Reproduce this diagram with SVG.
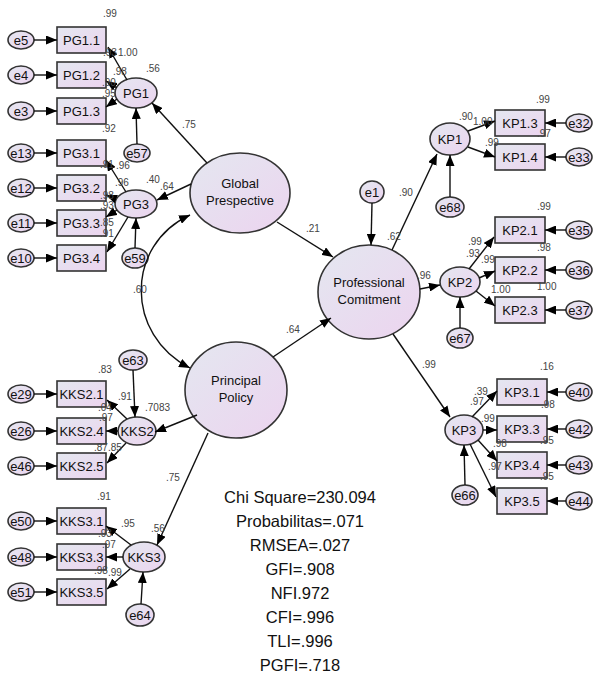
<svg xmlns="http://www.w3.org/2000/svg" width="593" height="680" viewBox="0 0 593 680">
<defs>
<linearGradient id="gr" x1="0" y1="0" x2="1" y2="1">
<stop offset="0" stop-color="#e4e7f0"/>
<stop offset="1" stop-color="#ecd4ef"/>
</linearGradient>
<marker id="ah" viewBox="0 0 11 9" refX="11" refY="4.5" markerWidth="11" markerHeight="9" markerUnits="userSpaceOnUse" orient="auto-start-reverse">
<path d="M0,0 L11,4.5 L0,9 z" fill="#000"/>
</marker>
<style>
.n rect,.n ellipse{fill:url(#gr);stroke:#333;stroke-width:1.6}
.n text{font-family:"Liberation Sans",Arial,sans-serif;font-size:13px;fill:#111;text-anchor:middle}
#conn line,#conn path{stroke:#111;stroke-width:1.4;fill:none;marker-end:url(#ah)}
.lb text{font-family:"Liberation Sans",Arial,sans-serif;font-size:10px;fill:#444}
.st{font-family:"Liberation Sans",Arial,sans-serif;font-size:16.5px;fill:#111;text-anchor:middle}
</style>
</defs>
<rect width="593" height="680" fill="#fff"/>

<!-- error ellipses left -->
<g id="e5" class="n"><ellipse cx="21" cy="40" rx="13" ry="9"/><text x="21" y="44.5">e5</text></g>
<g id="e4" class="n"><ellipse cx="21" cy="75" rx="13" ry="9"/><text x="21" y="79.5">e4</text></g>
<g id="e3" class="n"><ellipse cx="21" cy="111" rx="13" ry="9"/><text x="21" y="115.5">e3</text></g>
<g id="e13" class="n"><ellipse cx="21" cy="153" rx="13" ry="9"/><text x="21" y="157.5">e13</text></g>
<g id="e12" class="n"><ellipse cx="21" cy="188" rx="13" ry="9"/><text x="21" y="192.5">e12</text></g>
<g id="e11" class="n"><ellipse cx="21" cy="223" rx="13" ry="9"/><text x="21" y="227.5">e11</text></g>
<g id="e10" class="n"><ellipse cx="21" cy="258" rx="13" ry="9"/><text x="21" y="262.5">e10</text></g>
<g id="e29" class="n"><ellipse cx="21" cy="394" rx="13" ry="9"/><text x="21" y="398.5">e29</text></g>
<g id="e26" class="n"><ellipse cx="21" cy="431" rx="13" ry="9"/><text x="21" y="435.5">e26</text></g>
<g id="e46" class="n"><ellipse cx="21" cy="466" rx="13" ry="9"/><text x="21" y="470.5">e46</text></g>
<g id="e50" class="n"><ellipse cx="21" cy="521" rx="13" ry="9"/><text x="21" y="525.5">e50</text></g>
<g id="e48" class="n"><ellipse cx="21" cy="557" rx="13" ry="9"/><text x="21" y="561.5">e48</text></g>
<g id="e51" class="n"><ellipse cx="21" cy="592" rx="13" ry="9"/><text x="21" y="596.5">e51</text></g>

<!-- left indicators -->
<g id="PG1_1" class="n"><rect x="57" y="27" width="49" height="26"/><text x="81.5" y="44.5">PG1.1</text></g>
<g id="PG1_2" class="n"><rect x="57" y="62" width="49" height="26"/><text x="81.5" y="79.5">PG1.2</text></g>
<g id="PG1_3" class="n"><rect x="57" y="98" width="49" height="26"/><text x="81.5" y="115.5">PG1.3</text></g>
<g id="PG3_1" class="n"><rect x="57" y="140" width="49" height="26"/><text x="81.5" y="157.5">PG3.1</text></g>
<g id="PG3_2" class="n"><rect x="57" y="175" width="49" height="26"/><text x="81.5" y="192.5">PG3.2</text></g>
<g id="PG3_3" class="n"><rect x="57" y="210" width="49" height="26"/><text x="81.5" y="227.5">PG3.3</text></g>
<g id="PG3_4" class="n"><rect x="57" y="245" width="49" height="26"/><text x="81.5" y="262.5">PG3.4</text></g>
<g id="KKS2_1" class="n"><rect x="57" y="381" width="49" height="26"/><text x="81.5" y="398.5">KKS2.1</text></g>
<g id="KKS2_4" class="n"><rect x="57" y="418" width="49" height="26"/><text x="81.5" y="435.5">KKS2.4</text></g>
<g id="KKS2_5" class="n"><rect x="57" y="453" width="49" height="26"/><text x="81.5" y="470.5">KKS2.5</text></g>
<g id="KKS3_1" class="n"><rect x="57" y="508" width="49" height="26"/><text x="81.5" y="525.5">KKS3.1</text></g>
<g id="KKS3_3" class="n"><rect x="57" y="544" width="49" height="26"/><text x="81.5" y="561.5">KKS3.3</text></g>
<g id="KKS3_5" class="n"><rect x="57" y="579" width="49" height="26"/><text x="81.5" y="596.5">KKS3.5</text></g>

<!-- left latents -->
<g id="PG1" class="n"><ellipse cx="136" cy="93" rx="21" ry="15"/><text x="136" y="97.5">PG1</text></g>
<g id="PG3" class="n"><ellipse cx="136" cy="204" rx="21" ry="14"/><text x="136" y="208.5">PG3</text></g>
<g id="e57" class="n"><ellipse cx="137" cy="153" rx="13" ry="9"/><text x="137" y="157.5">e57</text></g>
<g id="e59" class="n"><ellipse cx="135" cy="258" rx="13" ry="10"/><text x="135" y="262.5">e59</text></g>
<g id="KKS2" class="n"><ellipse cx="137" cy="431" rx="19" ry="14"/><text x="137" y="435.5">KKS2</text></g>
<g id="e63" class="n"><ellipse cx="133" cy="360" rx="14" ry="10"/><text x="133" y="364.5">e63</text></g>
<g id="KKS3" class="n"><ellipse cx="144" cy="557" rx="21" ry="15"/><text x="144" y="561.5">KKS3</text></g>
<g id="e64" class="n"><ellipse cx="140" cy="615" rx="14" ry="11"/><text x="140" y="619.5">e64</text></g>

<!-- big latents -->
<g id="GP" class="n"><ellipse cx="240" cy="193" rx="50" ry="40"/><text x="240" y="188">Global</text><text x="240" y="205">Prespective</text></g>
<g id="PP" class="n"><ellipse cx="236" cy="390" rx="51" ry="48"/><text x="236" y="385">Principal</text><text x="236" y="402">Policy</text></g>
<g id="PC" class="n"><ellipse cx="369" cy="292" rx="51" ry="47"/><text x="369" y="287">Professional</text><text x="369" y="304">Comitment</text></g>
<g id="e1" class="n"><ellipse cx="372" cy="192" rx="12" ry="11"/><text x="372" y="196.5">e1</text></g>

<!-- right latents -->
<g id="KP1" class="n"><ellipse cx="450" cy="139" rx="20" ry="16"/><text x="450" y="143.5">KP1</text></g>
<g id="e68" class="n"><ellipse cx="450" cy="207" rx="14" ry="10"/><text x="450" y="211.5">e68</text></g>
<g id="KP2" class="n"><ellipse cx="460" cy="282" rx="20" ry="15"/><text x="460" y="286.5">KP2</text></g>
<g id="e67" class="n"><ellipse cx="460" cy="338" rx="13" ry="10"/><text x="460" y="342.5">e67</text></g>
<g id="KP3" class="n"><ellipse cx="464" cy="430" rx="19" ry="15"/><text x="464" y="434.5">KP3</text></g>
<g id="e66" class="n"><ellipse cx="465" cy="495" rx="13" ry="10"/><text x="465" y="499.5">e66</text></g>

<!-- right indicators -->
<g id="KP1_3" class="n"><rect x="495" y="110" width="50" height="26"/><text x="520" y="127.5">KP1.3</text></g>
<g id="KP1_4" class="n"><rect x="495" y="144" width="50" height="26"/><text x="520" y="161.5">KP1.4</text></g>
<g id="KP2_1" class="n"><rect x="495" y="217" width="50" height="26"/><text x="520" y="234.5">KP2.1</text></g>
<g id="KP2_2" class="n"><rect x="495" y="257" width="50" height="26"/><text x="520" y="274.5">KP2.2</text></g>
<g id="KP2_3" class="n"><rect x="495" y="297" width="50" height="26"/><text x="520" y="314.5">KP2.3</text></g>
<g id="KP3_1" class="n"><rect x="497" y="379" width="50" height="26"/><text x="522" y="396.5">KP3.1</text></g>
<g id="KP3_3" class="n"><rect x="497" y="416" width="50" height="26"/><text x="522" y="433.5">KP3.3</text></g>
<g id="KP3_4" class="n"><rect x="497" y="452" width="50" height="26"/><text x="522" y="469.5">KP3.4</text></g>
<g id="KP3_5" class="n"><rect x="497" y="488" width="50" height="26"/><text x="522" y="505.5">KP3.5</text></g>

<!-- error ellipses right -->
<g id="e32" class="n"><ellipse cx="579" cy="123" rx="13" ry="9"/><text x="579" y="127.5">e32</text></g>
<g id="e33" class="n"><ellipse cx="579" cy="157" rx="13" ry="9"/><text x="579" y="161.5">e33</text></g>
<g id="e35" class="n"><ellipse cx="579" cy="230" rx="13" ry="9"/><text x="579" y="234.5">e35</text></g>
<g id="e36" class="n"><ellipse cx="579" cy="270" rx="13" ry="9"/><text x="579" y="274.5">e36</text></g>
<g id="e37" class="n"><ellipse cx="579" cy="310" rx="13" ry="9"/><text x="579" y="314.5">e37</text></g>
<g id="e40" class="n"><ellipse cx="579" cy="392" rx="13" ry="9"/><text x="579" y="396.5">e40</text></g>
<g id="e42" class="n"><ellipse cx="579" cy="429" rx="13" ry="9"/><text x="579" y="433.5">e42</text></g>
<g id="e43" class="n"><ellipse cx="579" cy="465" rx="13" ry="9"/><text x="579" y="469.5">e43</text></g>
<g id="e44" class="n"><ellipse cx="579" cy="501" rx="13" ry="9"/><text x="579" y="505.5">e44</text></g>

<g id="conn">
<line x1="34" y1="40" x2="57" y2="40"/>
<line x1="34" y1="75" x2="57" y2="75"/>
<line x1="34" y1="111" x2="57" y2="111"/>
<line x1="34" y1="153" x2="57" y2="153"/>
<line x1="34" y1="188" x2="57" y2="188"/>
<line x1="34" y1="223" x2="57" y2="223"/>
<line x1="34" y1="258" x2="57" y2="258"/>
<line x1="34" y1="394" x2="57" y2="394"/>
<line x1="34" y1="431" x2="57" y2="431"/>
<line x1="34" y1="466" x2="57" y2="466"/>
<line x1="34" y1="521" x2="57" y2="521"/>
<line x1="34" y1="557" x2="57" y2="557"/>
<line x1="34" y1="592" x2="57" y2="592"/>
<line x1="127" y1="80" x2="108" y2="47"/>
<line x1="117" y1="88" x2="106" y2="81"/>
<line x1="117" y1="99" x2="106" y2="107"/>
<line x1="137" y1="144" x2="136" y2="108"/>
<line x1="126" y1="192" x2="106" y2="160"/>
<line x1="116" y1="199" x2="106" y2="195"/>
<line x1="117" y1="210" x2="106" y2="217"/>
<line x1="128" y1="217" x2="107" y2="252"/>
<line x1="135" y1="248" x2="136" y2="218"/>
<line x1="207" y1="163" x2="152" y2="103"/>
<line x1="191" y1="184" x2="157" y2="200"/>
<line x1="277" y1="222" x2="333" y2="257"/>
<path d="M190,215 C125,245 125,335 190,368" marker-start="url(#ah)"/>
<line x1="273" y1="357" x2="331" y2="318"/>
<line x1="197" y1="415" x2="155" y2="432"/>
<line x1="208" y1="433" x2="157" y2="545"/>
<line x1="127" y1="419" x2="107" y2="400"/>
<line x1="118" y1="431" x2="106" y2="431"/>
<line x1="126" y1="443" x2="107" y2="463"/>
<line x1="133" y1="370" x2="135" y2="417"/>
<line x1="131" y1="545" x2="106" y2="526"/>
<line x1="123" y1="557" x2="106" y2="557"/>
<line x1="130" y1="569" x2="107" y2="589"/>
<line x1="141" y1="604" x2="143" y2="572"/>
<line x1="372" y1="203" x2="371" y2="245"/>
<line x1="392" y1="250" x2="437" y2="154"/>
<line x1="420" y1="289" x2="440" y2="285"/>
<line x1="393" y1="334" x2="450" y2="417"/>
<line x1="468" y1="131" x2="495" y2="121"/>
<line x1="468" y1="147" x2="495" y2="157"/>
<line x1="450" y1="197" x2="450" y2="155"/>
<line x1="469" y1="269" x2="494" y2="237"/>
<line x1="479" y1="278" x2="495" y2="271"/>
<line x1="476" y1="291" x2="495" y2="306"/>
<line x1="460" y1="328" x2="460" y2="297"/>
<line x1="472" y1="417" x2="497" y2="391"/>
<line x1="483" y1="430" x2="497" y2="430"/>
<line x1="478" y1="440" x2="497" y2="461"/>
<line x1="470" y1="444" x2="496" y2="497"/>
<line x1="465" y1="485" x2="464" y2="445"/>
<line x1="566" y1="123" x2="545" y2="123"/>
<line x1="566" y1="157" x2="545" y2="157"/>
<line x1="566" y1="230" x2="545" y2="230"/>
<line x1="566" y1="270" x2="545" y2="270"/>
<line x1="566" y1="310" x2="545" y2="310"/>
<line x1="566" y1="392" x2="547" y2="392"/>
<line x1="566" y1="429" x2="547" y2="429"/>
<line x1="566" y1="465" x2="547" y2="465"/>
<line x1="566" y1="501" x2="547" y2="501"/>
</g>

<g class="lb">
<text x="103" y="17">.99</text>
<text x="103" y="56">.93</text>
<text x="118" y="56">1.00</text>
<text x="113" y="75">.98</text>
<text x="146" y="72">.56</text>
<text x="102" y="86">.90</text>
<text x="102" y="97">.95</text>
<text x="102" y="132">.92</text>
<text x="182" y="128">.75</text>
<text x="100" y="168">.91</text>
<text x="116" y="169">.96</text>
<text x="115" y="186">.96</text>
<text x="146" y="183">.40</text>
<text x="160" y="190">.64</text>
<text x="100" y="199">.98</text>
<text x="100" y="209">.93</text>
<text x="100" y="226">.85</text>
<text x="100" y="237">.91</text>
<text x="133" y="293">.60</text>
<text x="306" y="232">.21</text>
<text x="286" y="333">.64</text>
<text x="399" y="196">.90</text>
<text x="387" y="240">.62</text>
<text x="417" y="279">.96</text>
<text x="98" y="373">.83</text>
<text x="118" y="400">.91</text>
<text x="98" y="411">.04</text>
<text x="99" y="421">.97</text>
<text x="145" y="411">.7083</text>
<text x="94" y="451">.87</text>
<text x="108" y="451">.85</text>
<text x="166" y="481">.75</text>
<text x="97" y="500">.91</text>
<text x="121" y="527">.95</text>
<text x="98" y="537">.93</text>
<text x="102" y="548">.97</text>
<text x="94" y="574">.98</text>
<text x="108" y="576">.99</text>
<text x="151" y="532">.56</text>
<text x="536" y="103">.99</text>
<text x="459" y="120">.90</text>
<text x="473" y="125">1.00</text>
<text x="537" y="137">.97</text>
<text x="485" y="146">.99</text>
<text x="537" y="210">.99</text>
<text x="468" y="245">.99</text>
<text x="466" y="257">.93</text>
<text x="481" y="263">.99</text>
<text x="537" y="251">.98</text>
<text x="491" y="293">1.00</text>
<text x="537" y="290">1.00</text>
<text x="422" y="368">.99</text>
<text x="540" y="370">.16</text>
<text x="474" y="395">.39</text>
<text x="470" y="405">.97</text>
<text x="481" y="422">.99</text>
<text x="541" y="408">.98</text>
<text x="540" y="444">.95</text>
<text x="493" y="447">.98</text>
<text x="488" y="470">.97</text>
<text x="540" y="480">.95</text>
</g>

<g id="stats">
<text class="st" x="300" y="503">Chi Square=230.094</text>
<text class="st" x="300" y="527">Probabilitas=.071</text>
<text class="st" x="300" y="551">RMSEA=.027</text>
<text class="st" x="300" y="575">GFI=.908</text>
<text class="st" x="300" y="599">NFI.972</text>
<text class="st" x="300" y="623">CFI=.996</text>
<text class="st" x="300" y="647">TLI=.996</text>
<text class="st" x="300" y="671">PGFI=.718</text>
</g>
</svg>
